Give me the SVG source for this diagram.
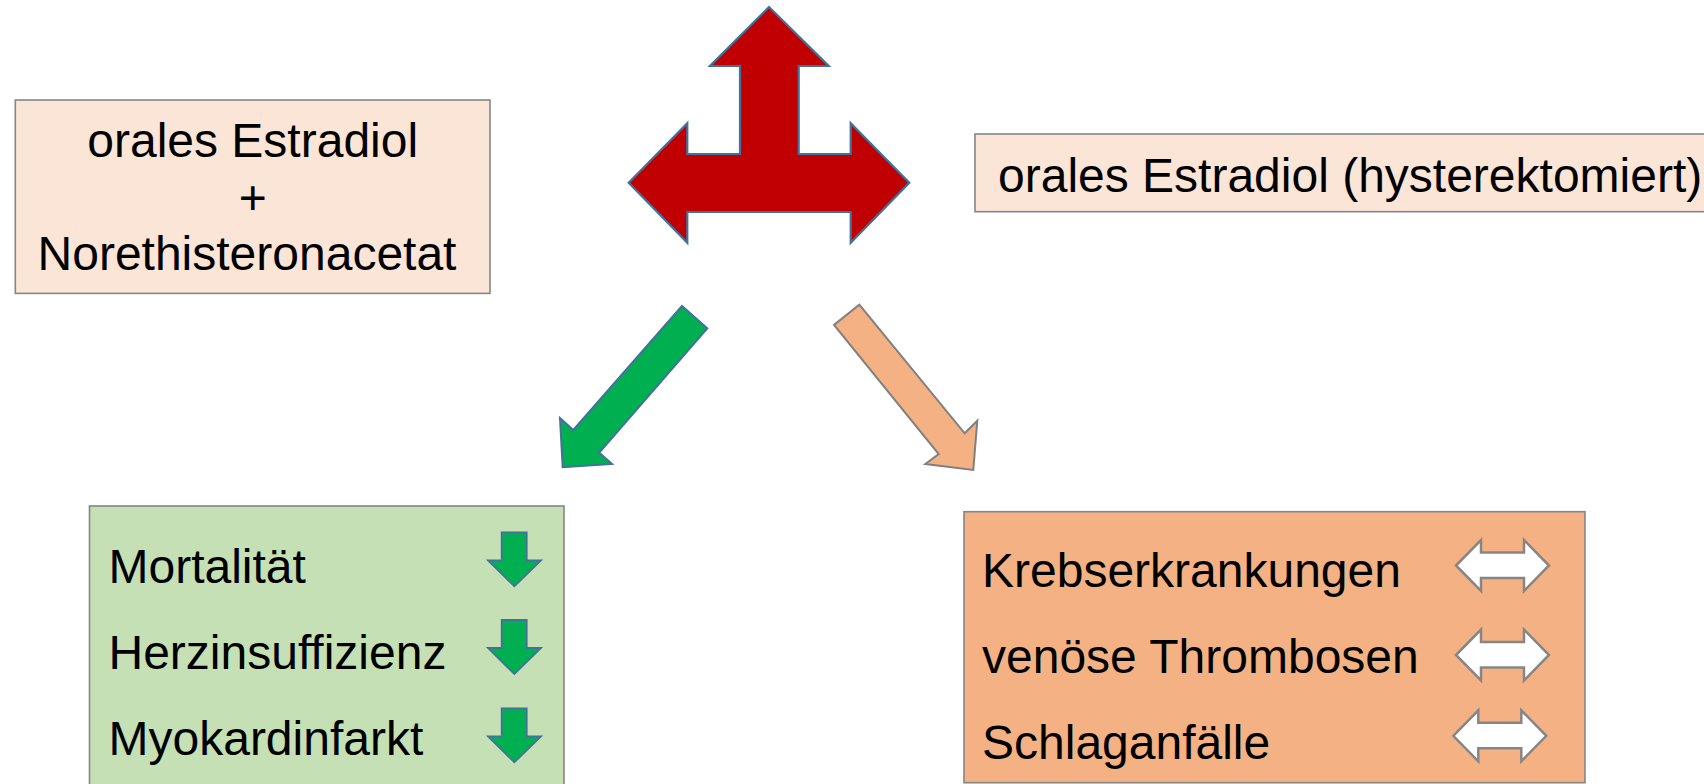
<svg xmlns="http://www.w3.org/2000/svg" width="1704" height="784" viewBox="0 0 1704 784">
  <style>
    .box { stroke: #868686; stroke-width: 1.6; }
    .peach { fill: #FBE5D6; }
    .green { fill: #C5E0B4; }
    .orange { fill: #F4B183; }
    .txt { font-family: "Liberation Sans", Arial, sans-serif; font-size: 48px; fill: #000; }
    .down { fill: #00B050; stroke: #41719C; stroke-width: 1.8; stroke-linejoin: miter; }
    .both { fill: #FFFFFF; stroke: #868686; stroke-width: 2.5; stroke-linejoin: miter; }
  </style>
  <defs>
    <path id="downArrow" d="M501.7,0 L526.7,0 L526.7,28 L541,28 L514.4,54 L488,28 L501.7,28 Z"/>
    <path id="bothArrow" d="M0,25.5 L25,0 L25,12.5 L68,12.5 L68,0 L93,25.5 L68,51 L68,38 L25,38 L25,51 Z"/>
  </defs>
  <rect width="1704" height="784" fill="#FFFFFF"/>

  <g id="box-left-top">
    <rect class="box peach" x="15.3" y="100" width="474.7" height="193.4"/>
    <text class="txt" x="252.7" y="156.7" text-anchor="middle">orales Estradiol</text>
    <text class="txt" x="252.7" y="214" text-anchor="middle">+</text>
    <text class="txt" x="247" y="270" text-anchor="middle">Norethisteronacetat</text>
  </g>

  <g id="box-right-top">
    <rect class="box peach" x="975" y="134" width="760" height="77.7"/>
    <text class="txt" x="998" y="191.7">orales Estradiol (hysterektomiert)</text>
  </g>

  <g id="triple-arrow">
    <polygon fill="#C00000" stroke="#41719C" stroke-width="2.2" stroke-linejoin="miter"
      points="769,7 828.7,66 798.7,66 798.7,154 850.7,154 850.7,123.3 909.3,182.7 850.7,242.7 850.7,212 687.3,212 687.3,242.7 628.7,182.7 687.3,123.3 687.3,154 740,154 740,66 710,66"/>
  </g>

  <g id="connectors">
    <polygon fill="#00B050" stroke="#41719C" stroke-width="2" stroke-linejoin="miter"
      points="682,306 707.3,328.3 599.3,452.7 612,464 562.7,467.3 560,418 573.3,430"/>
    <polygon fill="#F4B183" stroke="#808080" stroke-width="2" stroke-linejoin="miter"
      points="859.3,304.7 964.7,433.3 977.3,420.7 973.3,470 925.3,464 938.7,454 834,325"/>
  </g>

  <g id="box-green">
    <rect class="box green" x="89.5" y="506" width="474.5" height="300"/>
    <text class="txt" x="108.5" y="582.5">Mortalität</text>
    <text class="txt" x="108.5" y="668.5">Herzinsuffizienz</text>
    <text class="txt" x="108.5" y="754.5">Myokardinfarkt</text>
    <use href="#downArrow" class="down" y="532.3"/>
    <use href="#downArrow" class="down" y="620"/>
    <use href="#downArrow" class="down" y="708.3"/>
  </g>

  <g id="box-orange">
    <rect class="box orange" x="964" y="511.7" width="621" height="271"/>
    <text class="txt" x="982" y="587.3">Krebserkrankungen</text>
    <text class="txt" x="982" y="673.3">venöse Thrombosen</text>
    <text class="txt" x="982" y="759.3">Schlaganfälle</text>
    <use href="#bothArrow" class="both" x="1456" y="540"/>
    <use href="#bothArrow" class="both" x="1456" y="629.5"/>
    <use href="#bothArrow" class="both" x="1453.3" y="710.3"/>
  </g>
</svg>
